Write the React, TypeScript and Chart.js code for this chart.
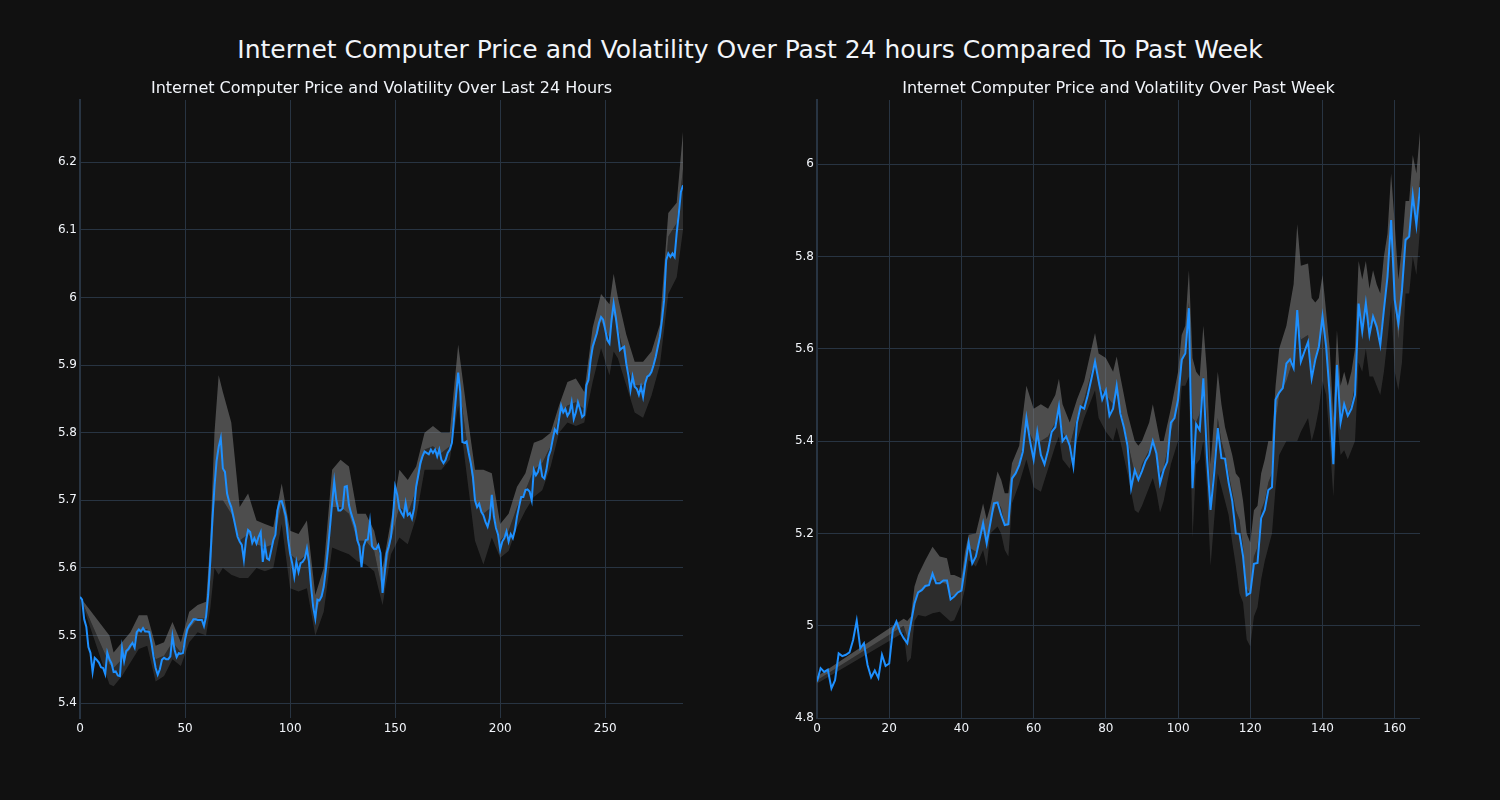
import React, { useEffect, useRef } from "react";
import { Chart, registerables } from "chart.js";

Chart.register(...registerables);

const FONT = "'DejaVu Sans', Verdana, sans-serif";
const TEXT = "#f2f5fa";
const GRID = "#283442";
const BG = "#111111";
const LINE = "#1e90ff";
const FILL_UP = "rgba(128,128,128,0.55)";
const FILL_DOWN = "rgba(128,128,128,0.25)";

const mainTitle = "Internet Computer Price and Volatility Over Past 24 hours Compared To Past Week";
const dayTitle = "Internet Computer Price and Volatility Over Last 24 Hours";
const weekTitle = "Internet Computer Price and Volatility Over Past Week";

// ---- Last 24 hours (5-minute steps, index 0..287) ----
const dayPrice = [
  5.557, 5.553, 5.524, 5.513, 5.483, 5.474, 5.446, 5.467, 5.464, 5.46,
  5.453, 5.452, 5.443, 5.475, 5.465, 5.459, 5.446, 5.447, 5.441, 5.44,
  5.482, 5.462, 5.477, 5.48, 5.485, 5.489, 5.482, 5.505, 5.509, 5.506,
  5.511, 5.506, 5.506, 5.505, 5.489, 5.469, 5.452, 5.442, 5.45, 5.464,
  5.467, 5.465, 5.465, 5.469, 5.499, 5.479, 5.468, 5.474, 5.473, 5.474,
  5.494, 5.509, 5.515, 5.519, 5.524, 5.524, 5.523, 5.523, 5.523, 5.514,
  5.528, 5.56, 5.61, 5.67, 5.72, 5.758, 5.779, 5.792, 5.747, 5.742,
  5.71, 5.698, 5.69, 5.676, 5.661, 5.646, 5.639, 5.634, 5.612, 5.641,
  5.656, 5.653, 5.637, 5.644, 5.636, 5.646, 5.653, 5.609, 5.634, 5.614,
  5.612, 5.626, 5.641, 5.649, 5.685, 5.698, 5.699, 5.688, 5.676, 5.644,
  5.621, 5.607, 5.587, 5.609, 5.594, 5.607, 5.609, 5.614, 5.629, 5.609,
  5.572, 5.542, 5.525, 5.553, 5.552, 5.558, 5.572, 5.597, 5.627, 5.661,
  5.696, 5.728, 5.7, 5.685, 5.685, 5.688, 5.72, 5.721, 5.693, 5.681,
  5.671, 5.661, 5.641, 5.632, 5.601, 5.632, 5.641, 5.642, 5.668, 5.632,
  5.628, 5.628, 5.634, 5.622, 5.563, 5.592, 5.622, 5.632, 5.646, 5.676,
  5.72, 5.708, 5.688, 5.681, 5.676, 5.696, 5.678, 5.681, 5.673, 5.688,
  5.72, 5.737, 5.755, 5.765, 5.772, 5.77, 5.768, 5.775, 5.77, 5.775,
  5.765, 5.775, 5.76, 5.755, 5.76, 5.77, 5.775, 5.785, 5.82, 5.855,
  5.889, 5.86, 5.786, 5.785, 5.787, 5.77, 5.755, 5.735, 5.7, 5.69,
  5.695, 5.683, 5.678, 5.668, 5.661, 5.673, 5.708, 5.676, 5.659, 5.649,
  5.627, 5.639, 5.644, 5.654, 5.639, 5.65, 5.644, 5.656, 5.676, 5.691,
  5.705, 5.705, 5.715, 5.716, 5.713, 5.7, 5.745, 5.737, 5.742, 5.755,
  5.735, 5.732, 5.745, 5.765, 5.774, 5.79, 5.805, 5.8, 5.82, 5.84,
  5.83, 5.835, 5.825, 5.83, 5.845, 5.82, 5.83, 5.845, 5.835, 5.823,
  5.826, 5.87, 5.878, 5.907, 5.927, 5.937, 5.947, 5.962, 5.971, 5.967,
  5.952, 5.937, 5.932, 5.967, 5.991, 5.971, 5.947, 5.922, 5.925, 5.927,
  5.902, 5.885, 5.863, 5.883, 5.868, 5.865, 5.856, 5.868, 5.853, 5.873,
  5.883, 5.885, 5.89, 5.9, 5.912, 5.927, 5.942, 5.967, 5.996, 6.055,
  6.065, 6.06, 6.065, 6.06, 6.095, 6.124, 6.156, 6.166,
];

const dayBandX = [
  0, 14, 16, 20, 24, 28, 32, 36, 40, 44, 48, 52, 56, 60, 62, 64, 66, 68, 72, 76, 80,
  84, 88, 92, 96, 100, 104, 108, 112, 116, 120, 124, 128, 132, 136, 140, 144, 148, 152, 156, 160,
  164, 168, 172, 176, 180, 184, 188, 192, 196, 200, 204, 208, 212, 216, 220, 224, 228, 232, 236, 240,
  244, 248, 252, 254, 256, 260, 264, 268, 272, 276, 280, 284, 287,
];
const dayUpper = [
  5.557, 5.5, 5.475, 5.49, 5.505, 5.53, 5.53, 5.485, 5.49, 5.52, 5.49, 5.535, 5.545, 5.55, 5.64, 5.8, 5.885, 5.86, 5.815, 5.69, 5.71,
  5.67, 5.665, 5.66, 5.725, 5.655, 5.65, 5.67, 5.56, 5.6, 5.745, 5.76, 5.75, 5.68, 5.68, 5.655, 5.6, 5.67, 5.745, 5.73, 5.75,
  5.8, 5.81, 5.8, 5.8, 5.93, 5.835, 5.745, 5.745, 5.74, 5.665, 5.68, 5.72, 5.74, 5.785, 5.79, 5.8, 5.84, 5.875, 5.88, 5.86,
  5.955, 6.005, 5.99, 6.035, 6.0, 5.945, 5.905, 5.905, 5.92, 5.96, 6.125, 6.14, 6.245,
];
const dayMid = [
  5.557, 5.458, 5.452, 5.465, 5.48, 5.505, 5.51, 5.465, 5.47, 5.49, 5.475, 5.51, 5.525, 5.525, 5.58, 5.7, 5.7, 5.7, 5.68, 5.64, 5.65,
  5.635, 5.63, 5.635, 5.695, 5.62, 5.61, 5.62, 5.53, 5.57, 5.69, 5.69, 5.68, 5.64, 5.64, 5.625, 5.565, 5.64, 5.69, 5.68, 5.715,
  5.775, 5.78, 5.77, 5.78, 5.88, 5.79, 5.7, 5.68, 5.69, 5.64, 5.655, 5.69, 5.715, 5.745, 5.755, 5.78, 5.825, 5.84, 5.845, 5.835,
  5.92, 5.965, 5.94, 5.975, 5.955, 5.9, 5.87, 5.87, 5.89, 5.935, 6.09, 6.11, 6.19,
];
const dayLower = [
  5.557, 5.428, 5.425, 5.44, 5.46, 5.48, 5.485, 5.432, 5.44, 5.465, 5.455, 5.49, 5.505, 5.5, 5.54, 5.6, 5.59, 5.6, 5.59, 5.585, 5.585,
  5.6, 5.595, 5.6, 5.665, 5.57, 5.565, 5.57, 5.5, 5.535, 5.63, 5.625, 5.62, 5.61, 5.605, 5.595, 5.545, 5.62, 5.645, 5.635, 5.675,
  5.745, 5.745, 5.745, 5.76, 5.84, 5.74, 5.64, 5.605, 5.645, 5.615, 5.625, 5.66, 5.685, 5.705, 5.715, 5.75, 5.8, 5.815, 5.81, 5.815,
  5.875, 5.925, 5.885, 5.92, 5.91, 5.87, 5.83, 5.822, 5.855, 5.9, 6.005, 6.03, 6.1,
];
const dayXTicks = [0, 50, 100, 150, 200, 250];
const dayYTicks = [5.4, 5.5, 5.6, 5.7, 5.8, 5.9, 6.0, 6.1, 6.2];

// ---- Past week (hourly steps, index 0..167) ----
const weekPrice = [
  4.879, 4.908, 4.9, 4.905, 4.864, 4.882, 4.94, 4.934, 4.937, 4.942,
  4.969, 5.011, 4.951, 4.962, 4.915, 4.888, 4.903, 4.887, 4.937, 4.913,
  4.918, 4.991, 5.009, 4.987, 4.973, 4.962, 5.005, 5.048, 5.072, 5.077,
  5.086, 5.088, 5.113, 5.092, 5.092, 5.098, 5.098, 5.057, 5.063, 5.072,
  5.076, 5.128, 5.18, 5.135, 5.15, 5.186, 5.222, 5.178, 5.222, 5.265,
  5.267, 5.24, 5.218, 5.22, 5.319, 5.33, 5.348, 5.377, 5.45, 5.4,
  5.36, 5.42, 5.37, 5.35, 5.38, 5.42, 5.43, 5.475, 5.4, 5.41,
  5.39, 5.345, 5.44, 5.475, 5.47, 5.5, 5.535, 5.572, 5.53, 5.49,
  5.51, 5.455, 5.47, 5.52, 5.46, 5.43, 5.39, 5.298, 5.337, 5.316,
  5.335, 5.357, 5.37, 5.4, 5.373, 5.308, 5.337, 5.355, 5.44, 5.45,
  5.49, 5.576, 5.59, 5.688, 5.298, 5.437, 5.424, 5.536, 5.366, 5.251,
  5.33, 5.428, 5.363, 5.362, 5.31, 5.27, 5.2, 5.199, 5.15, 5.066,
  5.071, 5.134, 5.136, 5.233, 5.251, 5.294, 5.3, 5.49, 5.505, 5.515,
  5.568, 5.577, 5.558, 5.684, 5.572, 5.594, 5.615, 5.536, 5.576, 5.605,
  5.67, 5.605, 5.5, 5.35, 5.565, 5.44, 5.48, 5.455, 5.47, 5.5,
  5.698, 5.637, 5.699, 5.63, 5.67, 5.648, 5.608, 5.684, 5.756, 5.879,
  5.706, 5.655, 5.727, 5.836, 5.843, 5.933, 5.868, 5.95,
];

const weekBandX = [
  0, 24, 25, 26, 27, 28, 30, 32, 34, 36, 37, 38, 40, 41, 42, 44, 46, 47, 48, 50,
  51, 52, 53, 54, 56, 58, 60, 62, 64, 66, 67, 68, 70, 72, 74, 76, 77, 78, 80, 82,
  83, 84, 86, 88, 89, 90, 92, 93, 94, 95, 96, 98, 100, 101, 102, 103, 104, 105, 106, 107,
  108, 109, 110, 111, 112, 113, 114, 115, 116, 117, 118, 119, 120, 121, 122, 123, 124, 125, 126, 127,
  128, 130, 132, 133, 134, 136, 137, 138, 139, 140, 141, 142, 143, 144, 145, 146, 147, 148, 149, 150,
  151, 152, 153, 154, 155, 156, 157, 158, 159, 160, 161, 162, 163, 164, 165, 166, 167,
];
const weekUpper = [
  4.89, 5.015, 5.01, 5.02, 5.085, 5.11, 5.142, 5.171, 5.15, 5.146, 5.11, 5.11, 5.103, 5.16, 5.197, 5.2, 5.265, 5.23, 5.258, 5.334,
  5.316, 5.287, 5.287, 5.352, 5.39, 5.52, 5.47, 5.48, 5.47, 5.5, 5.535, 5.48, 5.44, 5.49, 5.53, 5.6, 5.634, 5.59, 5.58, 5.55,
  5.583, 5.54, 5.46, 5.4, 5.39, 5.4, 5.44, 5.48, 5.44, 5.4, 5.4, 5.47, 5.55, 5.63, 5.65, 5.77, 5.58, 5.55, 5.54, 5.65,
  5.55, 5.35, 5.45, 5.55, 5.48, 5.43, 5.4, 5.37, 5.33, 5.32, 5.27, 5.2, 5.18, 5.25, 5.26, 5.33, 5.36, 5.4, 5.4, 5.52,
  5.6, 5.65, 5.74, 5.87, 5.78, 5.785, 5.71, 5.7, 5.71, 5.76, 5.68, 5.6, 5.45, 5.64, 5.52, 5.55, 5.52, 5.55, 5.6, 5.79,
  5.75, 5.79, 5.73, 5.77, 5.74, 5.72, 5.8, 5.85, 5.98, 5.87, 5.75, 5.82, 5.92, 5.92, 6.02, 5.98, 6.07,
];
const weekMid = [
  4.882, 5.0, 4.975, 4.99, 5.05, 5.07, 5.086, 5.1, 5.095, 5.09, 5.065, 5.065, 5.078, 5.12, 5.17, 5.16, 5.21, 5.18, 5.23, 5.27,
  5.255, 5.22, 5.215, 5.31, 5.35, 5.43, 5.4, 5.4, 5.41, 5.44, 5.47, 5.42, 5.39, 5.45, 5.49, 5.55, 5.57, 5.52, 5.5, 5.48,
  5.5, 5.47, 5.4, 5.33, 5.32, 5.35, 5.38, 5.4, 5.37, 5.33, 5.34, 5.42, 5.48, 5.56, 5.6, 5.7, 5.45, 5.44, 5.46, 5.54,
  5.45, 5.27, 5.36, 5.45, 5.4, 5.37, 5.33, 5.29, 5.25, 5.23, 5.17, 5.08, 5.07, 5.15, 5.17, 5.25, 5.27, 5.31, 5.33, 5.44,
  5.5, 5.53, 5.58, 5.65, 5.62, 5.63, 5.55, 5.58, 5.6, 5.65, 5.6, 5.5, 5.38, 5.55, 5.46, 5.48, 5.46, 5.48, 5.52, 5.68,
  5.65, 5.68, 5.65, 5.66, 5.64, 5.62, 5.68, 5.75, 5.85, 5.7, 5.62, 5.7, 5.83, 5.84, 5.92, 5.88, 5.97,
];
const weekLower = [
  4.875, 4.985, 4.92, 4.93, 5.01, 5.023, 5.02, 5.027, 5.03, 5.016, 5.009, 5.012, 5.048, 5.08, 5.142, 5.128, 5.164, 5.128, 5.2, 5.215,
  5.2, 5.164, 5.15, 5.265, 5.308, 5.36, 5.3, 5.29, 5.34, 5.39, 5.41, 5.36, 5.34, 5.4, 5.45, 5.49, 5.51, 5.45, 5.42, 5.4,
  5.43, 5.4, 5.33, 5.25, 5.244, 5.26, 5.3, 5.32, 5.29, 5.245, 5.27, 5.35, 5.4, 5.52, 5.52, 5.54, 5.19, 5.35, 5.36, 5.4,
  5.3, 5.13, 5.23, 5.33, 5.3, 5.27, 5.24, 5.18, 5.13, 5.07, 5.05, 4.97, 4.955, 5.02, 5.04, 5.1, 5.14, 5.17, 5.2, 5.3,
  5.37, 5.4, 5.4, 5.4, 5.42, 5.45, 5.4, 5.43, 5.47, 5.53, 5.5, 5.4, 5.28, 5.45, 5.37, 5.38, 5.36, 5.38, 5.4, 5.57,
  5.55, 5.6, 5.54, 5.54, 5.52, 5.5, 5.55, 5.62, 5.7, 5.55, 5.51, 5.57, 5.72, 5.72, 5.8, 5.76, 5.86,
];
const weekXTicks = [0, 20, 40, 60, 80, 100, 120, 140, 160];
const weekYTicks = [4.8, 5.0, 5.2, 5.4, 5.6, 5.8, 6.0];

type PanelProps = {
  left: number;
  price: number[];
  bandX: number[];
  upper: number[];
  mid: number[];
  lower: number[];
  xMax: number;
  yMin: number;
  yMax: number;
  xTicks: number[];
  yTicks: number[];
  yAxisWidth: number;
  padRight: number;
  titleWidth: number;
  title: string;
};

function fmt(v: number): string {
  return String(Number(v.toFixed(1)));
}

function Panel(p: PanelProps) {
  const ref = useRef<HTMLCanvasElement | null>(null);
  useEffect(() => {
    if (!ref.current) return;
    const band = (arr: number[]) => p.bandX.map((x, k) => ({ x, y: arr[k] }));
    const chart = new Chart(ref.current, {
      type: "line",
      data: {
        datasets: [
          {
            label: "price",
            data: p.price.map((y, i) => ({ x: i, y })),
            borderColor: LINE,
            borderWidth: 2,
            pointRadius: 0,
            fill: false,
            tension: 0,
            order: 0,
          },
          {
            label: "upper",
            data: band(p.upper),
            borderColor: "rgba(0,0,0,0)",
            borderWidth: 0,
            pointRadius: 0,
            fill: false,
            order: 1,
          },
          {
            label: "mid",
            data: band(p.mid),
            borderColor: "rgba(0,0,0,0)",
            borderWidth: 0,
            pointRadius: 0,
            fill: "-1",
            backgroundColor: FILL_UP,
            order: 1,
          },
          {
            label: "lower",
            data: band(p.lower),
            borderColor: "rgba(0,0,0,0)",
            borderWidth: 0,
            pointRadius: 0,
            fill: "-1",
            backgroundColor: FILL_DOWN,
            order: 1,
          },
        ] as any,
      },
      options: {
        animation: false,
        responsive: false,
        maintainAspectRatio: false,
        layout: { padding: { top: 100, right: p.padRight, bottom: 0, left: 0 } },
        plugins: {
          legend: { display: false },
          title: { display: false },
          tooltip: { enabled: false },
        },
        scales: {
          x: {
            type: "linear",
            min: 0,
            max: p.xMax,
            afterFit: (s: any) => {
              s.height = 82;
            },
            afterBuildTicks: (s: any) => {
              s.ticks = p.xTicks.map((v) => ({ value: v }));
            },
            grid: { color: GRID, lineWidth: 1, drawTicks: false },
            border: { display: false },
            ticks: {
              color: TEXT,
              font: { family: FONT, size: 12 },
              padding: 4,
              maxRotation: 0,
              callback: (v: any) => String(v),
            },
          },
          y: {
            type: "linear",
            min: p.yMin,
            max: p.yMax,
            afterFit: (s: any) => {
              s.width = p.yAxisWidth;
            },
            afterBuildTicks: (s: any) => {
              s.ticks = p.yTicks.map((v) => ({ value: v }));
            },
            grid: { color: GRID, lineWidth: 1, drawTicks: false },
            border: { display: true, color: GRID, width: 2 },
            ticks: {
              color: TEXT,
              font: { family: FONT, size: 12 },
              padding: 3,
              callback: (v: any) => fmt(Number(v)),
            },
          },
        },
      } as any,
    });
    return () => chart.destroy();
  }, []);
  return (
    <div style={{ position: "absolute", left: p.left, top: 0, width: 750, height: 800 }}>
      <canvas ref={ref} width={750} height={800} style={{ width: 750, height: 800, display: "block" }} />
      <div
        style={{
          position: "absolute",
          left: 0,
          top: 80,
          width: p.titleWidth,
          textAlign: "center",
          fontFamily: FONT,
          fontSize: 16,
          lineHeight: "16px",
          color: TEXT,
          whiteSpace: "nowrap",
        }}
      >
        {p.title}
      </div>
    </div>
  );
}

export default function App() {
  return (
    <div
      style={{
        position: "fixed",
        left: 0,
        top: 0,
        width: 1500,
        height: 800,
        background: BG,
        overflow: "hidden",
      }}
    >
      <div
        style={{
          position: "absolute",
          left: 0,
          top: 37,
          width: 1500,
          textAlign: "center",
          fontFamily: FONT,
          fontSize: 25,
          lineHeight: "25px",
          color: TEXT,
          whiteSpace: "nowrap",
        }}
      >
        {mainTitle}
      </div>
      <Panel
        left={0}
        price={dayPrice}
        bandX={dayBandX}
        upper={dayUpper}
        mid={dayMid}
        lower={dayLower}
        xMax={287}
        yMin={5.378}
        yMax={6.292}
        xTicks={dayXTicks}
        yTicks={dayYTicks}
        yAxisWidth={80}
        padRight={67}
        titleWidth={763}
        title={dayTitle}
      />
      <Panel
        left={750}
        price={weekPrice}
        bandX={weekBandX}
        upper={weekUpper}
        mid={weekMid}
        lower={weekLower}
        xMax={167}
        yMin={4.8}
        yMax={6.139}
        xTicks={weekXTicks}
        yTicks={weekYTicks}
        yAxisWidth={67}
        padRight={80}
        titleWidth={737}
        title={weekTitle}
      />
    </div>
  );
}
